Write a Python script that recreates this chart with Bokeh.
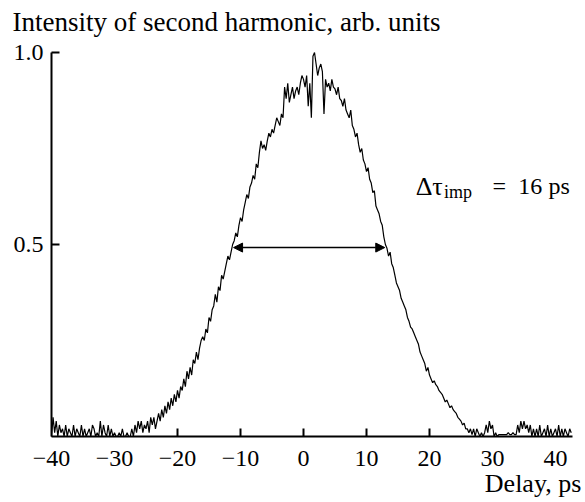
from bokeh.plotting import figure
from bokeh.models import (Range1d, FixedTicker, Label, Arrow, NormalHead, LinearAxis)
from bokeh.embed import file_html
from bokeh.resources import INLINE

# ---- data (delay step 0.25 ps, starting at -40 ps) ----
delay_start = -40.0
delay_step = 0.25
intensity = [
    # -40 .. -27 (baseline noise)
    0.00, 0.05, 0.01, 0.04,  0.00, 0.03, 0.01, 0.02,  0.00, 0.03, 0.00, 0.02,
    0.01, 0.00, 0.03, 0.00,  0.02, 0.01, 0.00, 0.03,  0.00, 0.02, 0.00, 0.01,
    0.02, 0.00, 0.03, 0.02,  0.00, 0.01, 0.00, 0.04,  0.00, 0.03, 0.01, 0.00,
    0.03, 0.00, 0.02, 0.00,  0.01, 0.00, 0.00, 0.01,  0.00, 0.02, 0.00, 0.00,
    0.01, 0.00, 0.00, 0.02,  0.00, 0.03, 0.01, 0.04,
    # -26 .. -25.25
    0.02, 0.04, 0.01, 0.03,
    # -25 .. -11.25
    0.02, 0.04, 0.01, 0.05,  0.03, 0.05, 0.02, 0.04,  0.06, 0.04, 0.07, 0.05,
    0.08, 0.06, 0.09, 0.07,  0.10, 0.08, 0.11, 0.09,  0.12, 0.10, 0.13, 0.12,
    0.15, 0.13, 0.17, 0.15,  0.18, 0.16, 0.20, 0.19,  0.22, 0.20, 0.23, 0.25,
    0.26, 0.25, 0.28, 0.27,  0.31, 0.30, 0.33, 0.34,  0.37, 0.35, 0.39, 0.38,
    0.42, 0.41, 0.43, 0.45,  0.47, 0.46, 0.48, 0.50,
    # -11 .. -0.25
    0.51, 0.53, 0.52, 0.55,  0.57, 0.56, 0.59, 0.61,  0.63, 0.62, 0.65, 0.66,
    0.68, 0.67, 0.71, 0.70,  0.74, 0.77, 0.75, 0.76,  0.745, 0.77, 0.79, 0.78,
    0.80, 0.79, 0.81, 0.83,  0.82, 0.81, 0.84, 0.83,  0.91, 0.88, 0.92, 0.87,
    0.89, 0.91, 0.88, 0.90,  0.91, 0.89, 0.92, 0.94,
    # 0 .. 10.75
    0.93, 0.91, 0.94, 0.86,  0.92, 0.83, 0.99, 1.00,  0.97, 0.94, 0.96, 0.97,
    0.95, 0.84, 0.93, 0.91,  0.92, 0.90, 0.93, 0.91,  0.905, 0.89, 0.91, 0.88,
    0.875, 0.86, 0.88, 0.85,  0.84, 0.83, 0.85, 0.81,  0.80, 0.78, 0.79, 0.76,
    0.74, 0.75, 0.72, 0.71,  0.69, 0.70, 0.67, 0.66,
    # 11 .. 26.75
    0.635, 0.64, 0.60, 0.59,  0.58, 0.56, 0.55, 0.52,  0.50, 0.49, 0.47, 0.48,
    0.45, 0.44, 0.42, 0.40,  0.39, 0.38, 0.36, 0.35,  0.34, 0.33, 0.31, 0.30,
    0.285, 0.28, 0.27, 0.26,  0.25, 0.24, 0.22, 0.21,  0.20, 0.19, 0.17, 0.18,
    0.16, 0.15, 0.14, 0.145,  0.135, 0.13, 0.12, 0.115,  0.11, 0.10, 0.09, 0.095,
    0.085, 0.075, 0.08, 0.07,  0.065, 0.06, 0.05, 0.045,  0.04, 0.03, 0.035, 0.02,
    0.02, 0.01, 0.02, 0.005,
    # 27 .. 42.5 (baseline noise)
    0.02, 0.00, 0.02, 0.01,  0.00, 0.01, 0.00, 0.01,  0.03, 0.01, 0.04, 0.02,
    0.03, 0.00, 0.01, 0.00,  0.005, 0.005, 0.005, 0.005,  0.005, 0.005, 0.01, 0.005,
    0.005, 0.01, 0.005, 0.005,  0.03, 0.01, 0.04, 0.02,  0.04, 0.02, 0.03, 0.01,
    0.03, 0.00, 0.02, 0.00,  0.02, 0.00, 0.03, 0.00,  0.01, 0.02, 0.00, 0.03,
    0.00, 0.02, 0.00, 0.01,  0.02, 0.00, 0.03, 0.00,  0.02, 0.00, 0.02, 0.01,
    0.00, 0.02, 0.01,
]
delay = [delay_start + delay_step * i for i in range(len(intensity))]

x_ticks = [-40, -30, -20, -10, 0, 10, 20, 30, 40]
x_tick_marks = [-20, -10, 0, 10, 20]
x_tick_labels = {-40: "\u221240", -30: "\u221230", -20: "\u221220", -10: "\u221210",
                 0: "0", 10: "10", 20: "20", 30: "30", 40: "40"}
y_ticks = [0.5, 1.0]
y_tick_labels = {0.5: "0.5", 1.0: "1.0"}

half_level = 0.492
fwhm_left, fwhm_right = -11.1, 12.9

# plotting area: axes drawn at fixed positions inside a full-canvas frame
W, H = 585, 502
X_PX_PER_UNIT, Y_PX_PER_UNIT = 6.3, 384.0
AXIS_X0_PX, AXIS_Y0_PX = 51, 436          # where x=-40 and y=0 fall on the canvas
x_lo = -40 - AXIS_X0_PX / X_PX_PER_UNIT
x_hi = x_lo + W / X_PX_PER_UNIT
y_hi = AXIS_Y0_PX / Y_PX_PER_UNIT
y_lo = y_hi - H / Y_PX_PER_UNIT

FONT = "Liberation Serif"
FS = "24px"

p = figure(width=W, height=H, output_backend="svg", toolbar_location=None,
           x_range=Range1d(x_lo, x_hi), y_range=Range1d(y_lo, y_hi),
           x_axis_type=None, y_axis_type=None,
           min_border_left=0, min_border_right=0, min_border_top=0,
           min_border_bottom=0)
p.outline_line_color = None
p.grid.visible = False

p.line(delay, intensity, line_color="black", line_width=1.2)

# axes
xa = LinearAxis(fixed_location=0, bounds=(-40, 42.7),
                ticker=FixedTicker(ticks=x_ticks, minor_ticks=x_tick_marks))
xa.major_label_overrides = x_tick_labels
xa.major_tick_line_color = None
xa.minor_tick_in = 8
xa.minor_tick_out = 0
xa.minor_tick_line_width = 2
xa.minor_tick_line_color = "black"
xa.axis_line_width = 2
xa.major_label_text_font = FONT
xa.major_label_text_font_size = FS
xa.major_label_text_color = "black"
xa.major_label_standoff = 8
p.add_layout(xa, "below")

ya = LinearAxis(fixed_location=-40, bounds=(0, 1.0),
                ticker=FixedTicker(ticks=y_ticks))
ya.major_label_overrides = y_tick_labels
ya.major_tick_in = 8
ya.major_tick_out = 0
ya.major_tick_line_width = 2
ya.minor_tick_line_color = None
ya.axis_line_width = 2
ya.major_label_text_font = FONT
ya.major_label_text_font_size = FS
ya.major_label_text_color = "black"
ya.major_label_standoff = 8
p.add_layout(ya, "left")

# axis titles
p.add_layout(Label(x=-46.2, y=1.080, text="Intensity of second harmonic, arb. units",
                   text_font=FONT, text_font_size="27px", text_color="black",
                   text_align="left", text_baseline="alphabetic"))
p.add_layout(Label(x=44.1, y=-0.122, text="Delay, ps",
                   text_font=FONT, text_font_size="26px", text_color="black",
                   text_align="right", text_baseline="alphabetic"))

# FWHM arrow and annotation
p.add_layout(Arrow(x_start=fwhm_left, y_start=half_level, x_end=fwhm_right, y_end=half_level,
                   line_width=1.5, line_color="black",
                   start=NormalHead(size=9, fill_color="black", line_color="black"),
                   end=NormalHead(size=9, fill_color="black", line_color="black")))
p.add_layout(Label(x=17.8, y=0.652, text="\u0394\u03c4",
                   text_font=FONT, text_font_size="26px", text_color="black",
                   text_align="left", text_baseline="alphabetic"))
p.add_layout(Label(x=22.3, y=0.638, text="imp",
                   text_font=FONT, text_font_size="18px", text_color="black",
                   text_align="left", text_baseline="alphabetic"))
p.add_layout(Label(x=30.0, y=0.652, text="=",
                   text_font=FONT, text_font_size=FS, text_color="black",
                   text_align="left", text_baseline="alphabetic"))
p.add_layout(Label(x=34.1, y=0.652, text="16",
                   text_font=FONT, text_font_size=FS, text_color="black",
                   text_align="left", text_baseline="alphabetic"))
p.add_layout(Label(x=38.9, y=0.652, text="ps",
                   text_font=FONT, text_font_size=FS, text_color="black",
                   text_align="left", text_baseline="alphabetic"))

open("out.html", "w").write(file_html(p, INLINE))
